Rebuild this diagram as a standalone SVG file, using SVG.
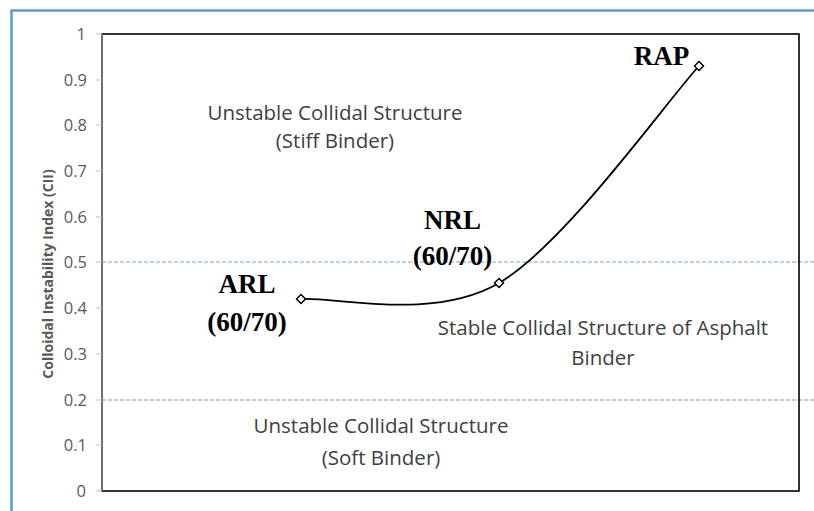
<svg xmlns="http://www.w3.org/2000/svg" width="814" height="511" viewBox="0 0 814 511">
<style>
.tick{font-family:"Open Sans","Liberation Sans",sans-serif;font-size:16.5px;fill:#595959;text-anchor:end}
.region{font-family:"Open Sans","Liberation Sans",sans-serif;font-size:20.5px;fill:#404040;text-anchor:middle}
.lbl{font-family:"Liberation Serif","Times New Roman",serif;font-size:27px;font-weight:bold;fill:#000;text-anchor:middle}
.mk{fill:#fff;stroke:#000;stroke-width:1.5}
.dash{stroke:#9dc3e6;stroke-width:1.3;stroke-dasharray:4 2;fill:none}
.tk{stroke:#bfbfbf;stroke-width:1}
</style>
<rect x="0" y="0" width="814" height="511" fill="#fff"/>
<rect x="11.5" y="10.5" width="820" height="520" fill="none" stroke="#5b9bd5" stroke-width="2.5"/>
<g id="axes">
<line class="dash" x1="102" y1="262" x2="814" y2="262"/>
<line class="dash" x1="102" y1="400" x2="814" y2="400"/>
<rect x="102" y="34" width="697" height="457" fill="none" stroke="#000" stroke-width="1.6"/>
<line x1="102" y1="34" x2="102" y2="491" stroke="#7f7f7f" stroke-width="1.6"/>
<g class="tk">
<line x1="96" y1="34" x2="102" y2="34"/><line x1="96" y1="80" x2="102" y2="80"/><line x1="96" y1="125" x2="102" y2="125"/><line x1="96" y1="171" x2="102" y2="171"/><line x1="96" y1="217" x2="102" y2="217"/><line x1="96" y1="262" x2="102" y2="262"/><line x1="96" y1="308" x2="102" y2="308"/><line x1="96" y1="354" x2="102" y2="354"/><line x1="96" y1="400" x2="102" y2="400"/><line x1="96" y1="445" x2="102" y2="445"/><line x1="96" y1="491" x2="102" y2="491"/>
</g>
<text class="tick" x="86" y="40">1</text>
<text class="tick" x="87" y="86">0.9</text>
<text class="tick" x="87" y="131">0.8</text>
<text class="tick" x="87" y="177">0.7</text>
<text class="tick" x="87" y="223">0.6</text>
<text class="tick" x="87" y="268">0.5</text>
<text class="tick" x="87" y="314">0.4</text>
<text class="tick" x="87" y="360">0.3</text>
<text class="tick" x="87" y="406">0.2</text>
<text class="tick" x="87" y="451">0.1</text>
<text class="tick" x="86" y="497">0</text>
<text transform="translate(53,274) rotate(-90)" font-family="'Open Sans','Liberation Sans',sans-serif" font-size="14" font-weight="bold" fill="#595959" text-anchor="middle">Colloidal Instability Index (CII)</text>
</g>
<g id="regions">
<text class="region" x="335" y="120">Unstable Collidal Structure</text>
<text class="region" x="335" y="148">(Stiff Binder)</text>
<text class="region" x="603" y="335">Stable Collidal Structure of Asphalt</text>
<text class="region" x="603" y="365">Binder</text>
<text class="region" x="381" y="433">Unstable Collidal Structure</text>
<text class="region" x="381" y="465">(Soft Binder)</text>
</g>
<g id="connectors">
<path d="M301,299 C334,296.3 432.7,321.8 499,283 C565.3,244.2 665.7,102.2 699,66" fill="none" stroke="#000" stroke-width="1.8"/>
</g>
<g id="ARL">
<path class="mk" d="M301,294.5 L305.5,299 L301,303.5 L296.5,299 Z"/>
<text class="lbl" x="247" y="293">ARL</text>
<text class="lbl" x="247" y="331">(60/70)</text>
</g>
<g id="NRL">
<path class="mk" d="M499,278.5 L503.5,283 L499,287.5 L494.5,283 Z"/>
<text class="lbl" x="452.5" y="229">NRL</text>
<text class="lbl" x="452.5" y="265">(60/70)</text>
</g>
<g id="RAP">
<path class="mk" d="M699,61.5 L703.5,66 L699,70.5 L694.5,66 Z"/>
<text class="lbl" x="661.5" y="65">RAP</text>
</g>
</svg>
